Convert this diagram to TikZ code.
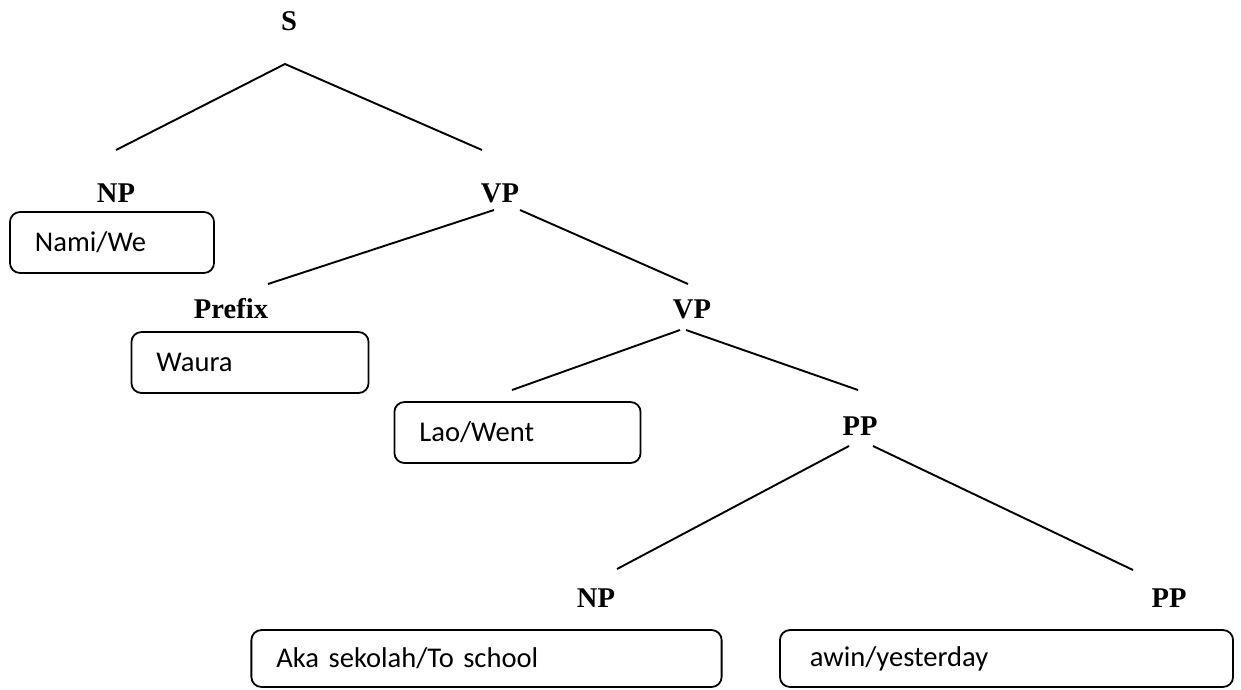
\documentclass[tikz,border=0pt]{standalone}
\usepackage{fontspec}
\setmainfont{Liberation Serif}
\newfontfamily\glossfont{Carlito}
\usetikzlibrary{positioning}

\begin{document}
\begin{tikzpicture}[
  x=0.42pt, y=-0.42pt,
  every node/.style={font=\fontsize{12}{14}\selectfont},
  cat/.style={font=\fontsize{12}{14}\selectfont\bfseries, inner sep=0pt, anchor=base},
  word/.style={
    rectangle, rounded corners=4.2pt,
    draw=black, line width=0.75pt,
    text width=#1, align=left,
    inner xsep=10.5pt, inner ysep=0pt,
    minimum height=25.6pt,
    font=\fontsize{12}{14}\selectfont\glossfont,
  },
  branch/.style={line width=0.8pt, draw=black},
]
  \useasboundingbox (0,0) rectangle (1241,689);

  % category labels
  \node[cat] (S)      at (289,30)  {S};
  \node[cat] (NP1)    at (116,202) {NP};
  \node[cat] (VP1)    at (500,202) {VP};
  \node[cat] (Prefix) at (231,318) {Prefix};
  \node[cat] (VP2)    at (692,318) {VP};
  \node[cat] (PP1)    at (860,435) {PP};
  \node[cat] (NP2)    at (596,607) {NP};
  \node[cat] (PP2)    at (1169,607) {PP};

  % word boxes
  \node[word=64.7pt]  (nami)  at (112,242.5)  {Nami/We};
  \node[word=78.6pt]  (waura) at (250,362.5)  {Waura};
  \node[word=82.4pt]  (lao)   at (517.5,432.5) {Lao/Went};
  \node[word=176.5pt, minimum height=23.9pt] (aka)  at (486.5,658.5)  {Aka sekolah/To school};
  \node[word=169.8pt, minimum height=23.9pt, inner xsep=12.6pt, text width=165.1pt] (awin) at (1006.5,658.5) {awin/yesterday};

  % branch ends
  \coordinate (S-fork)     at (285,64);
  \coordinate (NP1-top)    at (116,150);
  \coordinate (VP1-top)    at (482,150);
  \coordinate (VP1-l)      at (494,210);
  \coordinate (VP1-r)      at (520,210);
  \coordinate (Prefix-top) at (268,284);
  \coordinate (VP2-top)    at (688,284);
  \coordinate (VP2-l)      at (680,330);
  \coordinate (VP2-r)      at (686,330);
  \coordinate (lao-top)    at (512,390);
  \coordinate (PP1-top)    at (858,390);
  \coordinate (PP1-l)      at (849,446);
  \coordinate (PP1-r)      at (873,446);
  \coordinate (NP2-top)    at (617,569);
  \coordinate (PP2-top)    at (1133,570);

  \draw[branch] (NP1-top) -- (S-fork) -- (VP1-top);
  \draw[branch] (VP1-l) -- (Prefix-top);
  \draw[branch] (VP1-r) -- (VP2-top);
  \draw[branch] (VP2-l) -- (lao-top);
  \draw[branch] (VP2-r) -- (PP1-top);
  \draw[branch] (PP1-l) -- (NP2-top);
  \draw[branch] (PP1-r) -- (PP2-top);
\end{tikzpicture}
\end{document}
